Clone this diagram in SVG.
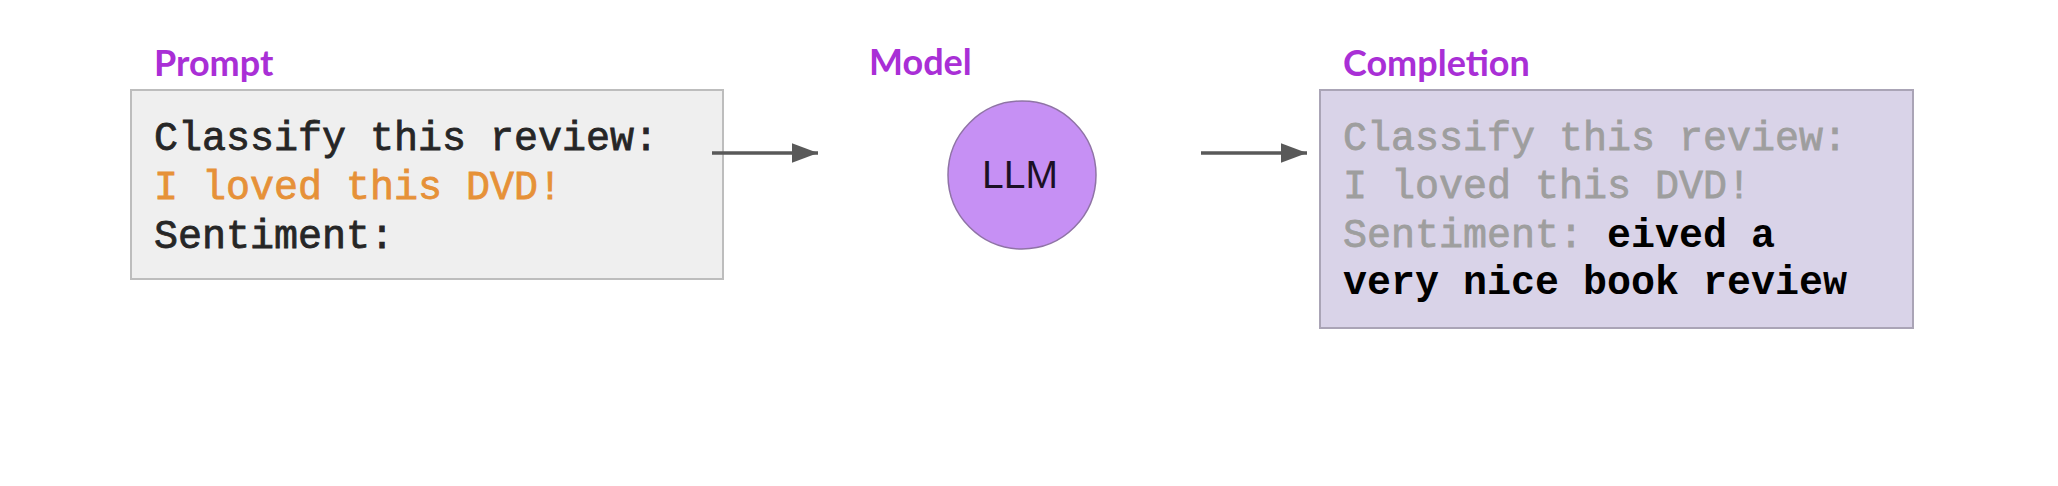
<svg xmlns="http://www.w3.org/2000/svg" width="2058" height="486" viewBox="0 0 2058 486">
  <style>
    .title { font-family: Lato, "Liberation Sans", sans-serif; font-weight: 700; font-size: 36px; fill: #a92fd6; }
    .mono { font-family: "Liberation Mono", "Courier New", monospace; font-size: 40px; }
    .dark { fill: #262626; stroke: #262626; stroke-width: 0.8; }
    .orange { fill: #e69138; stroke: #e69138; stroke-width: 0.8; }
    .gray { fill: #9e9e9e; stroke: #9e9e9e; stroke-width: 0.8; }
    .bold { fill: #000000; font-weight: 700; }
    .conn { stroke: #595959; stroke-width: 3.5; fill: none; }
  </style>
  <defs>
    <marker id="arrow" viewBox="0 0 10 10" refX="10" refY="5" markerWidth="7.5" markerHeight="5.6" markerUnits="strokeWidth" orient="auto" preserveAspectRatio="none">
      <path d="M0,0 L10,5 L0,10 Z" fill="#595959"/>
    </marker>
  </defs>
  <rect width="2058" height="486" fill="#ffffff"/>

  <g id="prompt">
    <text class="title" x="154" y="76">Prompt</text>
    <rect x="131" y="90" width="592" height="189" fill="#efefef" stroke="#bdbdbd" stroke-width="2"/>
    <text class="mono dark" x="154" y="150">Classify this review:</text>
    <text class="mono orange" x="154" y="199">I loved this DVD!</text>
    <text class="mono dark" x="154" y="248">Sentiment:</text>
  </g>

  <g id="model">
    <text class="title" x="869" y="75">Model</text>
    <circle cx="1022" cy="175" r="74" fill="#c690f4" stroke="#8f73a6" stroke-width="1.5"/>
    <text x="1020" y="188" text-anchor="middle" font-family="'Liberation Sans', Arial, sans-serif" font-size="39" fill="#1c1024">LLM</text>
  </g>

  <g id="completion">
    <text class="title" x="1343" y="76">Completion</text>
    <rect x="1320" y="90" width="593" height="238" fill="#d9d3e8" stroke="#aaa4b6" stroke-width="2"/>
    <text class="mono gray" x="1343" y="150">Classify this review:</text>
    <text class="mono gray" x="1343" y="198">I loved this DVD!</text>
    <text class="mono" x="1343" y="247"><tspan class="gray">Sentiment: </tspan><tspan class="bold">eived a</tspan></text>
    <text class="mono bold" x="1343" y="294">very nice book review</text>
  </g>

  <g id="connectors">
    <line class="conn" x1="712" y1="153" x2="818" y2="153" marker-end="url(#arrow)"/>
    <line class="conn" x1="1201" y1="153" x2="1307" y2="153" marker-end="url(#arrow)"/>
  </g>
</svg>
